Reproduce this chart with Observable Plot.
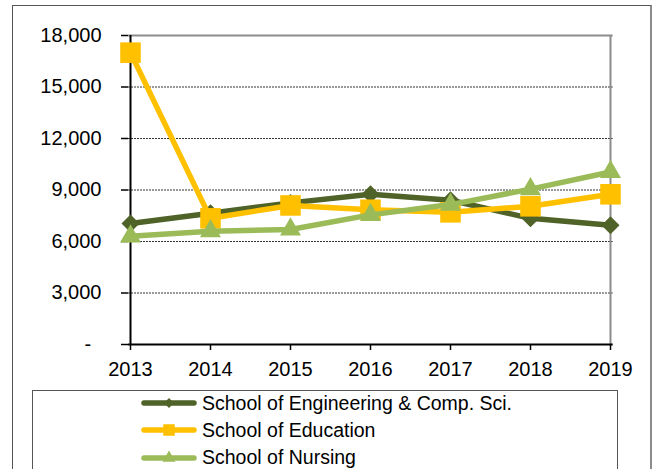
<!DOCTYPE html>
<html><head><meta charset="utf-8">
<script src="https://cdn.jsdelivr.net/npm/d3@7"></script>
<script src="https://cdn.jsdelivr.net/npm/@observablehq/plot@0.6"></script>
<style>
body{margin:0;background:#fff;font-family:"Liberation Sans",Arial,sans-serif;}
#wrap{position:relative;width:656px;height:469px;overflow:hidden;background:#fff;}
#outer{position:absolute;left:12px;top:5px;width:637px;height:520px;border:1px solid #555;border-right:2px solid #8c8c8c;}
#chart{position:absolute;left:0;top:0;}
#legend{position:absolute;left:32px;top:390px;width:584px;height:120px;border:1px solid #555;background:#fff;}
.row{position:absolute;left:108px;height:27px;display:flex;align-items:center;font-size:19.5px;color:#000;white-space:nowrap;}
.row svg{margin-right:5px;}
</style>
</head>
<body>
<div id="wrap">
  <div id="outer"></div>
  <div id="chart"></div>
  <div id="legend"></div>
</div>
<script>
const years = [2013, 2014, 2015, 2016, 2017, 2018, 2019];
const seriesNames = ["School of Engineering & Comp. Sci.", "School of Education", "School of Nursing"];
const engineering = [7050, 7650, 8250, 8750, 8400, 7350, 6950];
const education = [17000, 7350, 8100, 7850, 7700, 8050, 8750];
const nursing = [6300, 6600, 6700, 7550, 8150, 9050, 10050];
const yTicks = [0, 3000, 6000, 9000, 12000, 15000, 18000];
const colors = ["#4F6228", "#FFC000", "#9BBB59"];
const symbols = ["diamond2", "square", "triangle"];
const symbolR = [8.1, 11.6, 7.8];

const valuesList = [engineering, education, nursing];
const table = seriesNames.map((name, i) => years.map((year, j) => ({series: name, year, value: valuesList[i][j]})));

const seriesMarks = [];
table.forEach((rows, i) => {
  seriesMarks.push(Plot.line(rows, {x: "year", y: "value", stroke: colors[i], strokeWidth: 5.5, strokeLinejoin: "round", strokeLinecap: "round"}));
  seriesMarks.push(Plot.dot(rows, {x: "year", y: "value", symbol: () => symbols[i], fill: colors[i], stroke: "none", r: symbolR[i]}));
});

const chart = Plot.plot({
  width: 656, height: 385,
  marginLeft: 128, marginRight: 43.3, marginTop: 35, marginBottom: 41,
  style: {fontFamily: "'Liberation Sans', Arial, sans-serif", fontSize: "20px", color: "#000", background: "transparent"},
  x: {type: "point", domain: years, padding: 0, label: null},
  y: {domain: [0, 18000], label: null},
  marks: [
    Plot.ruleY(yTicks.filter(d => d > 0 && d < 18000), {stroke: "#333", strokeWidth: 1, strokeDasharray: "2,1"}),
    Plot.ruleY([18000], {stroke: "#8c8c8c", strokeWidth: 2}),
    Plot.ruleX([years[years.length - 1]], {stroke: "#8c8c8c", strokeWidth: 2}),
    Plot.axisX({tickSize: 6, tickPadding: 11, tickFormat: d => String(d), stroke: "#000", strokeWidth: 1.5, fontSize: 20}),
    Plot.axisY({ticks: yTicks.filter(d => d > 0), tickSize: 7, tickPadding: 20, tickFormat: d3.format(","), stroke: "#000", strokeWidth: 1.5, fontSize: 20}),
    Plot.axisY({ticks: [0], tickSize: 7, tickPadding: 30.3, tickFormat: () => "-", stroke: "#000", strokeWidth: 1.5, fontSize: 20}),
    Plot.ruleX([years[0]], {stroke: "#000", strokeWidth: 2}),
    Plot.ruleY([0], {stroke: "#000", strokeWidth: 2}),
    ...seriesMarks
  ]
});
document.getElementById("chart").appendChild(chart);

// Legend
const legend = document.getElementById("legend");
const legendR = [4.5, 6.5, 4.8];
const rowCenters = [12.3, 39, 66.7];
seriesNames.forEach((name, i) => {
  const row = document.createElement("div");
  row.className = "row";
  row.style.top = (rowCenters[i] - 13.5) + "px";
  const svg = d3.create("svg").attr("width", 56).attr("height", 20);
  svg.append("line").attr("x1", 3).attr("x2", 53).attr("y1", 10).attr("y2", 10)
    .attr("stroke", colors[i]).attr("stroke-width", 5.5).attr("stroke-linecap", "round");
  const symType = [d3.symbolDiamond2, d3.symbolSquare, d3.symbolTriangle][i];
  svg.append("path").attr("transform", "translate(28,10)")
    .attr("d", d3.symbol(symType, Math.PI * legendR[i] * legendR[i])())
    .attr("fill", colors[i]);
  row.appendChild(svg.node());
  const span = document.createElement("span");
  span.textContent = name;
  row.appendChild(span);
  legend.appendChild(row);
});
</script>
</body></html>
